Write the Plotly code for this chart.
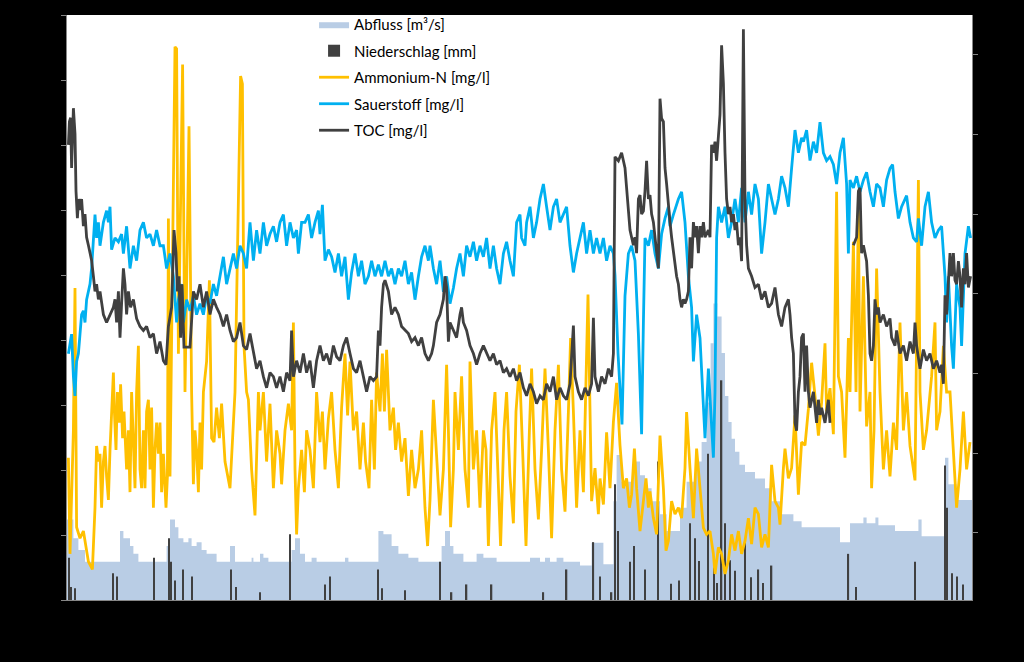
import plotly.graph_objects as go

# ---------------- data (day index, values) ----------------
abfluss_day = [0, 3.2, 5.7, 9.0, 26.5, 28.2, 31.5, 33.2, 35.7, 49.8, 51.5, 54.0, 55.7, 58.2, 60.7, 62.3, 64.8,
               67.3, 69.8, 74.8, 81.5, 84.0, 92.3, 93.2, 96.5, 98.2, 100.7, 112.3, 114.0, 116.5, 119.0, 122.3,
               124.8, 139.0, 140.7, 155.7, 158.2, 162.3, 165.7, 170.7, 175.7, 187.3, 189.0, 191.5, 193.2, 198.2,
               204.8, 208.2, 214.8, 231.5, 236.5, 239.0, 241.5, 244.8, 248.2, 256.5, 262.3, 268.2, 273.2, 274.8,
               277.3, 283.2, 286.5, 289.0, 292.3, 296.5, 299.8, 306.5, 309.8, 314.0, 317.3, 319.8, 321.8, 323.2,
               325.2, 327.3, 329.0, 330.7, 332.3, 334.0, 336.2, 339.0, 344.0, 349.0, 352.3, 357.3, 363.2, 367.3,
               386.5, 391.5, 398.2, 399.8, 404.2, 405.7, 414.0, 425.7, 427.3, 439.0, 440.7, 444.8, 452.5]
abfluss_val = [12.4, 9.5, 7.7, 5.9, 10.6, 9.5, 8.3, 7.1, 5.9, 8.3, 12.4, 11.2, 9.5, 8.9, 9.5, 8.3, 8.9,
               7.7, 7.1, 5.9, 8.3, 5.9, 6.5, 5.9, 7.1, 6.5, 5.9, 7.7, 9.5, 7.1, 5.9, 6.5,
               5.9, 6.5, 5.9, 10.6, 10.1, 8.3, 7.1, 6.5, 5.9, 8.3, 10.6, 8.3, 7.1, 5.9,
               7.1, 6.5, 5.9, 6.5, 5.9, 6.5, 5.9, 6.5, 5.9, 5.3, 8.8, 5.5, 15.2, 22.3,
               18.2, 21.3, 19.2, 17.2, 15.2, 13.2, 10.6, 14.2, 18.2, 21.3, 24.3, 30.4, 39.5, 45.6,
               43.6, 38.0, 31.4, 27.4, 24.8, 22.8, 20.8, 19.7, 18.7, 17.2, 15.2, 13.2, 12.1, 11.2,
               8.9, 11.8, 12.7, 11.8, 12.7, 11.5, 10.6, 12.4, 9.8, 21.9, 17.8, 15.4, 15.4]

nieder_day = [1.0, 2.0, 4.0, 23.0, 25.0, 43.5, 51.0, 52.0, 54.0, 58.0, 62.5, 82.0, 84.5, 96.5, 111.5, 129.0,
              131.5, 155.5, 157.5, 169.0, 186.5, 192.3, 199.8, 212.3, 238.2, 249.8, 263.2, 266.5, 272.3, 274.0,
              275.5, 281.5, 283.5, 289.0, 295.5, 302.0, 306.0, 311.5, 314.0, 316.0, 320.5, 323.5, 325.0, 327.3,
              329.0, 331.5, 334.0, 339.0, 342.0, 345.7, 348.0, 352.3, 390.7, 394.5, 424.0, 439.0, 440.0, 442.5,
              445.0, 448.0]
nieder_val = [6.5, 2.0, 1.8, 4.1, 3.6, 6.5, 9.5, 5.9, 3.0, 4.7, 3.6, 4.7, 2.0, 1.2, 10.1, 2.4,
              3.6, 4.7, 1.8, 1.5, 5.9, 1.2, 2.4, 2.4, 1.2, 4.7, 8.9, 3.6, 1.2, 17.8,
              10.6, 5.9, 8.3, 4.7, 21.3, 2.5, 3.0, 11.8, 9.5, 6.0, 22.5, 5.0, 2.6, 33.8,
              11.8, 6.1, 4.5, 9.5, 3.5, 4.7, 2.6, 5.3, 7.1, 2.0, 5.9, 20.7, 14.2, 4.1,
              3.6, 2.4]

amm_day = [0.7, 1.5, 3.2, 4.0, 4.8, 6.5, 8.2, 10.7, 12.7, 14.0, 14.8, 15.7, 16.5, 17.3, 18.2, 19.0, 19.8, 20.7,
           21.5, 23.2, 23.7, 24.5, 25.2, 26.2, 26.8, 27.8, 28.5, 29.8, 30.7, 31.5, 32.3, 33.2, 34.0, 34.8,
           35.7, 36.5, 37.3, 38.2, 39.0, 39.8, 40.7, 41.5, 42.3, 43.2, 44.0, 44.8, 45.7, 46.5, 47.3, 48.2,
           49.5, 50.2, 50.7, 51.5, 54.0, 54.8, 55.7, 57.8, 59.0, 61.0, 62.3, 63.2, 64.0, 64.8, 65.7, 66.5,
           67.3, 68.2, 69.8, 71.2, 72.3, 73.5, 74.8, 76.2, 77.3, 79.0, 81.5, 84.0, 86.8, 87.7, 88.5, 89.8,
           90.7, 92.3, 94.0, 95.7, 96.5, 98.2, 99.8, 101.5, 103.2, 104.8, 106.5, 107.3, 109.0, 110.7, 112.3,
           113.2, 114.0, 114.8, 115.7, 117.3, 118.7, 119.8, 121.5, 123.2, 124.8, 126.5, 127.7, 129.0, 130.7,
           132.3, 134.0, 135.7, 137.3, 139.0, 140.3, 141.5, 143.2, 144.8, 146.5, 148.2, 149.3, 151.0, 152.3,
           153.7, 154.8, 156.5, 157.7, 158.7, 159.8, 161.5, 163.2, 164.3, 165.7, 167.3, 169.0, 170.7, 172.3,
           174.0, 175.7, 177.3, 179.0, 180.3, 181.5, 183.2, 184.8, 186.5, 188.2, 189.8, 190.7, 191.8, 193.2,
           194.0, 195.7, 197.3, 199.0, 200.7, 201.5, 203.2, 204.8, 206.5, 208.2, 209.5, 210.7, 212.3, 214.0,
           215.7, 216.8, 218.5, 219.8, 221.5, 223.2, 224.5, 226.2, 227.8, 229.5, 231.2, 232.3, 234.0, 235.7,
           237.3, 239.0, 240.7, 242.3, 244.0, 245.7, 247.3, 249.0, 250.7, 251.8, 253.2, 254.8, 256.5, 258.2,
           260.5, 262.3, 264.0, 265.7, 266.5, 268.2, 269.8, 271.5, 273.2, 274.8, 276.5, 278.2, 279.8, 281.2,
           282.3, 283.7, 284.8, 286.5, 288.2, 289.5, 290.7, 291.5, 293.2, 294.8, 296.5, 298.2, 299.5, 300.7,
           302.3, 304.0, 305.7, 307.3, 309.0, 309.8, 311.5, 313.2, 314.8, 316.5, 318.2, 319.8, 321.5, 323.2,
           324.0, 325.7, 327.3, 329.0, 330.7, 332.3, 334.0, 335.7, 337.3, 339.0, 340.7, 342.3, 344.0, 345.7,
           347.3, 349.0, 350.7, 352.3, 354.0, 355.7, 356.5, 358.2, 359.0, 360.7, 362.3, 364.0, 365.7, 367.3,
           369.0, 370.7, 372.3, 374.0, 375.7, 377.3, 379.0, 379.8, 381.5, 383.2, 384.8, 385.7, 387.3, 389.0,
           390.7, 391.5, 393.2, 394.5, 395.7, 396.5, 398.2, 399.8, 401.5, 402.3, 403.5, 404.8, 406.5, 408.2,
           409.8, 411.5, 413.2, 414.8, 416.5, 418.2, 419.8, 421.5, 424.0, 425.7, 426.5, 428.2, 429.8, 432.3,
           434.0, 434.8, 436.5, 438.2, 439.8, 441.5, 443.2, 444.8, 446.5, 448.2, 449.8, 451.5]
amm_val = [21.9, 7.1, 26.1, 48.0, 11.2, 9.5, 10.6, 5.9, 4.7, 14.2, 23.7, 21.3, 22.5, 14.2, 21.3, 23.7, 19.0, 15.4,
           23.1, 35.0, 29.0, 23.1, 32.0, 27.3, 33.2, 24.9, 29.0, 20.1, 26.1, 16.6, 32.0, 23.1, 17.2, 32.0,
           39.1, 20.1, 17.2, 26.1, 17.2, 29.0, 30.8, 20.1, 29.6, 14.2, 23.1, 27.3, 22.5, 27.3, 16.6, 22.5,
           14.2, 19.0, 58.7, 19.0, 85.1, 84.8, 37.9, 82.4, 32.0, 72.9, 32.0, 17.8, 26.1, 23.1, 16.6, 27.3,
           20.1, 32.0, 36.7, 49.2, 24.9, 24.3, 29.6, 24.9, 30.2, 21.3, 17.2, 32.0, 80.6, 79.4, 39.1, 32.0,
           30.8, 20.1, 13.0, 32.0, 26.1, 32.0, 21.3, 30.2, 17.2, 26.1, 22.5, 17.8, 26.1, 30.2, 26.1,
           42.7, 20.1, 10.1, 17.2, 23.1, 16.6, 26.1, 23.1, 17.2, 32.0, 24.3, 29.0, 20.1, 27.9,
           32.0, 23.1, 17.2, 29.6, 37.9, 28.4, 36.7, 26.1, 29.0, 20.1, 27.3, 21.3, 17.2, 30.8,
           20.1, 35.0, 29.0, 37.9, 29.0, 38.5, 26.1, 29.6, 23.1, 27.3, 21.3, 24.9, 16.0, 23.1,
           17.2, 20.1, 26.1, 14.2, 8.3, 15.4, 30.8, 21.3, 13.0, 20.1, 36.2, 26.1, 11.2, 20.1,
           32.0, 23.1, 34.4, 20.1, 14.2, 36.7, 20.1, 26.1, 14.2, 26.1, 23.1, 8.3, 26.1, 32.0,
           17.8, 8.3, 26.1, 32.0, 19.0, 11.8, 29.0, 36.2, 23.1, 8.3, 26.1, 35.6, 20.1, 12.4,
           23.1, 35.6, 23.1, 9.5, 26.1, 36.2, 20.1, 13.6, 29.0, 40.3, 29.0, 14.2, 26.1, 16.6,
           47.0, 15.2, 20.3, 13.2, 18.7, 14.7, 25.8, 17.2, 27.4, 33.4, 23.8, 17.2, 18.7, 14.2,
           16.2, 23.3, 17.2, 10.6, 15.2, 18.7, 14.2, 16.7, 12.6, 10.1, 25.3, 17.2, 7.6, 9.1,
           15.2, 13.2, 14.2, 12.6, 20.3, 28.9, 20.3, 12.6, 23.3, 17.2, 11.1, 10.1, 10.6, 7.1,
           4.0, 8.1, 7.1, 4.0, 6.1, 10.1, 7.6, 10.6, 7.1, 9.1, 12.6, 8.6, 14.2, 13.2,
           8.1, 10.1, 8.1, 20.8, 15.2, 14.2, 11.6, 20.3, 23.3, 18.7, 20.3, 28.4, 16.2, 24.3,
           23.8, 29.4, 36.5, 31.4, 25.3, 30.4, 39.5, 29.0, 32.6, 25.5, 62.8, 34.4, 32.0, 21.9,
           40.3, 32.0, 55.1, 32.0, 60.5, 29.0, 49.8, 26.7, 32.0, 17.2, 26.1, 51.0, 32.0, 20.1,
           26.1, 19.0, 27.3, 23.1, 42.7, 26.1, 32.0, 23.7, 18.4, 64.6, 32.0, 23.1, 26.1, 34.4,
           42.7, 26.1, 29.0, 39.1, 32.0, 32.0, 23.1, 14.2, 20.1, 29.0, 20.1, 24.3]

o2_day = [0.7, 1.5, 2.3, 3.2, 4.0, 4.8, 5.7, 6.5, 7.3, 8.2, 9.0, 9.8, 10.7, 11.5, 12.3, 13.2, 14.0, 14.8, 15.7,
          16.5, 18.2, 19.8, 20.7, 21.5, 22.3, 24.0, 25.7, 27.3, 28.2, 29.8, 31.5, 33.2, 34.8, 36.5, 38.2,
          39.8, 41.5, 43.2, 44.8, 46.5, 48.2, 49.8, 51.5, 53.2, 54.8, 55.7, 57.3, 58.2, 59.8, 61.5, 63.2,
          64.8, 66.5, 68.2, 69.8, 71.5, 73.2, 74.8, 76.5, 78.2, 79.8, 81.5, 83.2, 84.8, 86.5, 88.2, 89.8,
          91.5, 93.2, 94.8, 96.5, 98.2, 99.8, 101.5, 103.2, 104.8, 106.5, 108.2, 109.8, 111.5, 113.2, 114.8,
          115.7, 117.3, 119.0, 120.7, 122.3, 124.0, 125.7, 126.5, 127.7, 129.0, 130.7, 132.3, 134.0, 135.7,
          137.3, 139.0, 140.7, 142.3, 144.0, 145.7, 147.3, 149.0, 150.7, 152.3, 154.0, 155.7, 157.3, 159.0,
          160.7, 162.3, 164.0, 165.7, 167.3, 169.0, 170.7, 172.3, 174.0, 175.7, 177.3, 179.0, 180.7, 181.5,
          183.2, 184.8, 186.5, 188.2, 189.8, 191.5, 193.2, 194.8, 196.5, 198.2, 199.8, 201.5, 203.2, 204.8,
          206.5, 208.2, 209.8, 211.5, 213.2, 214.8, 216.5, 218.2, 219.8, 221.5, 223.2, 224.8, 226.5, 227.3,
          229.0, 229.8, 231.5, 233.2, 234.8, 236.5, 238.2, 239.8, 241.5, 243.2, 244.8, 246.5, 248.2, 249.8,
          251.5, 253.2, 254.8, 256.5, 258.2, 259.8, 261.5, 263.2, 264.8, 266.5, 268.2, 269.8, 271.5, 273.2,
          274.0, 275.5, 277.5, 279.0, 280.7, 282.3, 284.0, 285.7, 286.5, 287.3, 288.2, 289.0, 290.7, 292.3,
          294.0, 295.7, 297.3, 299.0, 300.7, 301.5, 303.2, 305.7, 307.3, 309.0, 310.7, 312.3, 313.2, 314.8,
          316.5, 317.7, 319.0, 320.7, 322.3, 323.2, 324.0, 324.8, 325.7, 327.3, 329.0, 330.7, 332.3, 334.0,
          335.7, 337.3, 339.0, 340.7, 342.3, 344.0, 345.7, 347.3, 349.0, 350.7, 352.3, 354.0, 355.7, 357.3,
          359.0, 360.7, 362.3, 364.0, 365.7, 367.3, 368.2, 369.8, 371.5, 373.2, 374.8, 376.5, 378.2, 379.8,
          381.5, 383.2, 384.8, 386.5, 388.2, 389.8, 390.7, 391.5, 393.2, 394.8, 396.5, 398.2, 399.8, 401.5,
          403.2, 404.8, 406.5, 408.2, 409.8, 411.5, 412.8, 414.0, 415.7, 417.3, 419.8, 421.5, 423.2, 424.8,
          425.7, 427.3, 429.0, 430.7, 432.3, 434.0, 435.7, 437.3, 439.0, 439.8, 440.7, 442.3, 443.2, 444.8,
          446.5, 447.3, 449.0, 450.7, 451.8]
o2_val = [37.9, 39.7, 40.9, 34.4, 31.4, 36.7, 37.9, 40.9, 43.9, 44.5, 42.7, 46.2, 47.4, 48.6, 51.0, 56.3, 59.3, 55.7, 58.1,
          54.5, 58.1, 59.9, 58.1, 60.5, 53.9, 55.7, 55.1, 56.3, 53.3, 57.5, 51.0, 54.5, 52.2, 56.9, 58.1,
          55.7, 56.3, 54.5, 56.9, 54.5, 54.5, 51.0, 53.3, 49.8, 42.7, 46.2, 48.6, 42.7, 46.2, 44.5, 46.8,
          43.9, 45.6, 43.9, 46.8, 45.6, 48.6, 46.8, 49.8, 52.8, 48.6, 51.0, 53.3, 51.0, 54.5, 53.3, 51.0,
          58.1, 52.2, 56.9, 53.3, 58.1, 54.5, 56.3, 57.5, 55.1, 58.1, 59.3, 54.5, 58.1, 55.7, 56.9,
          53.3, 58.1, 58.1, 59.3, 55.7, 58.1, 59.9, 56.3, 60.8, 52.2, 53.9, 52.8, 50.4, 53.3,
          49.8, 52.8, 46.2, 50.4, 53.3, 49.8, 52.2, 48.6, 49.8, 52.2, 49.8, 51.6, 49.8, 52.2,
          49.8, 51.0, 48.6, 51.0, 49.8, 52.2, 48.6, 50.4, 46.2, 49.8, 52.8, 54.5, 52.2, 54.5,
          51.0, 48.6, 52.2, 47.4, 49.8, 45.6, 48.0, 51.0, 53.3, 49.8, 54.5, 52.8, 55.1, 52.2,
          54.5, 52.8, 55.7, 51.0, 54.5, 51.0, 48.6, 53.3, 55.1, 52.2, 49.8, 58.1, 59.3, 55.7,
          54.5, 58.1, 60.5, 55.7, 58.1, 61.7, 64.0, 60.5, 56.9, 60.5, 61.7, 58.1, 59.3, 60.5,
          54.5, 50.4, 53.3, 55.7, 58.1, 53.3, 56.9, 53.3, 55.7, 53.3, 55.7, 52.2, 54.5, 53.3,
          50.0, 38.0, 27.0, 46.8, 53.3, 54.5, 52.2, 40.9, 32.0, 25.5, 42.7, 55.7, 54.5, 56.9,
          53.3, 51.0, 56.3, 58.7, 60.5, 57.5, 59.3, 61.7, 62.8, 58.1, 49.8, 45.0, 36.7, 43.9,
          40.3, 32.0, 24.9, 35.6, 26.1, 21.9, 32.0, 55.7, 60.5, 58.1, 60.5, 55.7, 58.1, 61.7,
          58.1, 63.4, 58.1, 62.8, 59.3, 64.0, 61.7, 53.3, 58.1, 64.0, 61.7, 59.3, 61.7, 65.2,
          63.4, 60.5, 66.4, 72.3, 68.8, 71.1, 70.5, 72.3, 67.6, 70.5, 68.8, 73.5, 68.8, 67.6,
          68.2, 67.0, 64.0, 68.8, 71.1, 64.0, 53.3, 64.6, 63.4, 65.2, 62.8, 64.6, 65.8, 62.8,
          60.5, 64.0, 63.4, 60.5, 64.6, 66.4, 67.0, 62.8, 58.7, 60.5, 62.2, 58.1, 55.7, 55.1,
          58.7, 54.5, 60.5, 62.8, 58.1, 55.7, 56.9, 57.5, 49.8, 42.7, 49.8, 39.1, 35.6, 48.6,
          45.0, 39.1, 53.3, 57.5, 55.7]

toc_day = [0.7, 1.2, 1.8, 2.3, 3.2, 4.0, 4.5, 5.2, 5.8, 6.5, 7.3, 8.2, 9.0, 9.8, 10.7, 11.5, 12.3, 13.2, 14.0,
           14.8, 15.7, 16.5, 18.2, 19.8, 21.5, 23.2, 24.0, 24.8, 25.7, 26.5, 27.3, 28.2, 29.0, 29.8, 30.7,
           31.8, 33.2, 34.8, 36.5, 38.2, 39.8, 41.5, 43.2, 44.8, 46.5, 48.2, 49.5, 50.7, 52.3, 53.5, 54.5,
           55.2, 56.0, 56.8, 57.5, 58.5, 61.5, 63.2, 64.8, 66.5, 68.2, 69.8, 71.5, 73.2, 74.8, 76.5, 78.2,
           79.8, 81.5, 83.2, 84.8, 86.5, 88.2, 89.8, 91.5, 93.2, 94.8, 96.5, 98.2, 99.8, 101.5, 103.2, 104.8,
           106.5, 108.2, 109.8, 111.5, 112.3, 113.2, 114.8, 116.5, 118.2, 119.8, 121.5, 123.2, 124.8, 126.5,
           128.2, 129.8, 131.5, 133.2, 134.8, 136.5, 138.2, 139.8, 141.5, 143.2, 144.8, 146.5, 148.2, 149.8,
           151.5, 153.2, 154.8, 155.7, 156.5, 157.3, 158.2, 159.0, 160.7, 162.3, 164.0, 165.7, 167.3, 169.0,
           170.7, 172.3, 174.0, 175.7, 177.3, 179.0, 180.7, 182.3, 183.2, 184.8, 186.5, 188.2, 189.0, 189.8,
           190.7, 191.5, 193.2, 194.8, 196.5, 197.3, 198.2, 199.8, 201.5, 203.2, 204.8, 206.5, 208.2, 209.8,
           211.5, 213.2, 214.8, 216.5, 218.2, 219.8, 221.5, 223.2, 224.8, 226.5, 228.2, 229.8, 231.5, 233.2,
           234.8, 236.5, 238.2, 239.8, 241.5, 243.2, 244.8, 246.5, 248.2, 249.8, 251.5, 253.2, 254.0, 255.7,
           257.3, 259.0, 260.7, 262.3, 263.2, 264.0, 265.7, 267.3, 269.0, 270.7, 272.3, 273.2, 274.0, 275.7,
           276.5, 277.3, 278.2, 279.0, 279.8, 280.7, 281.5, 282.3, 283.2, 284.0, 284.8, 285.7, 286.5, 287.3,
           288.2, 289.0, 289.8, 290.7, 291.5, 292.3, 293.2, 294.0, 294.8, 295.7, 296.5, 297.3, 298.2, 299.0,
           299.8, 300.7, 301.5, 302.3, 303.2, 304.0, 304.8, 305.7, 306.5, 307.3, 308.2, 309.0, 309.8, 310.7,
           311.5, 312.3, 313.2, 314.0, 314.8, 315.7, 316.5, 317.3, 318.2, 319.0, 320.7, 321.5, 322.3, 323.2,
           324.0, 324.8, 325.7, 326.5, 327.3, 328.2, 329.0, 329.8, 330.7, 331.5, 332.3, 333.2, 334.0, 334.8,
           335.7, 336.5, 337.3, 338.2, 339.0, 339.8, 340.7, 342.3, 344.0, 345.7, 347.3, 349.0, 350.7, 352.3,
           354.0, 355.7, 357.3, 359.0, 360.7, 361.5, 362.3, 363.2, 364.0, 364.8, 365.7, 366.5, 367.3, 368.2,
           369.0, 369.8, 370.7, 371.5, 373.2, 374.8, 375.7, 376.5, 377.3, 379.0, 380.7, 381.5, 387.0,
           393.2, 394.8, 395.7, 396.5, 397.3, 398.2, 399.8, 400.7, 401.5, 402.3, 403.2, 404.0, 404.8, 405.7,
           406.5, 408.2, 409.8, 411.5, 412.3, 414.0, 414.8, 416.5, 418.2, 419.8, 421.5, 423.2, 424.0, 424.8,
           426.5, 428.2, 429.8, 431.5, 433.2, 434.8, 436.5, 437.3, 438.2, 439.0, 439.8, 440.7, 441.5, 442.3,
           443.2, 444.0, 444.8, 445.7, 446.5, 447.3, 448.2, 449.0, 449.8, 450.7, 451.8]
toc_val = [68.7, 71.6, 72.1, 65.8, 73.3, 70.1, 62.9, 59.5, 61.9, 60.5, 61.9, 58.5, 60.0, 57.1, 56.1, 55.1, 54.2, 52.2, 50.3,
           51.2, 49.3, 50.3, 47.4, 46.4, 47.4, 48.3, 49.3, 46.4, 50.3, 44.5, 48.8, 53.2, 51.2, 47.4, 50.3,
           48.3, 49.3, 46.9, 45.9, 45.4, 45.9, 44.5, 45.0, 42.5, 44.0, 41.6, 41.1, 45.9, 48.3, 58.0, 55.1,
           50.3, 52.2, 44.5, 51.2, 43.3, 43.3, 50.3, 49.3, 51.2, 48.3, 50.3, 47.4, 49.3, 48.3, 47.4, 45.9,
           47.4, 45.4, 44.0, 44.5, 46.4, 43.5, 43.0, 45.0, 42.5, 40.6, 41.6, 39.6, 38.2, 40.1, 39.6, 38.2,
           39.6, 37.7, 40.1, 39.1, 45.4, 39.6, 41.6, 40.1, 42.5, 40.1, 41.6, 38.2, 41.6, 43.5,
           41.6, 42.5, 41.1, 43.5, 42.1, 41.6, 43.5, 44.5, 42.5, 40.6, 40.1, 41.6, 39.6, 37.7,
           39.6, 39.1, 39.6, 45.4, 43.5, 48.3, 51.2, 51.7, 50.3, 47.4, 48.3, 47.4, 45.9, 45.4,
           45.0, 44.0, 44.5, 43.5, 44.5, 42.5, 41.6, 42.5, 43.5, 46.4, 47.4, 49.3, 52.2, 50.8,
           44.0, 46.4, 45.4, 44.5, 47.4, 48.3, 46.4, 45.4, 43.5, 42.5, 41.1, 42.5, 43.5, 42.5,
           41.6, 42.5, 41.1, 41.6, 40.1, 40.6, 39.6, 40.6, 39.1, 40.1, 38.2, 37.2, 38.7, 37.7,
           36.2, 37.2, 36.7, 38.7, 37.7, 39.6, 36.7, 38.2, 37.2, 36.7, 38.7, 46.0, 39.6, 37.7,
           36.7, 38.2, 37.2, 38.7, 47.0, 39.6, 37.7, 39.6, 38.7, 40.6, 39.6, 42.5, 67.2, 66.7,
           67.2, 67.7, 66.7, 65.8, 63.3, 60.0, 58.0, 57.1, 56.1, 57.1, 55.1, 61.9, 62.4, 60.0,
           60.4, 62.9, 66.7, 61.9, 62.4, 60.0, 59.0, 57.1, 55.1, 53.2, 74.5, 72.0, 71.6, 65.8,
           63.8, 60.9, 59.0, 57.1, 55.1, 54.1, 52.2, 51.2, 49.3, 48.3, 49.3, 48.8, 49.3, 50.3,
           57.1, 53.2, 59.0, 57.1, 58.5, 55.1, 58.5, 57.1, 59.0, 57.1, 58.0, 57.1, 68.7, 67.7,
           69.1, 66.7, 69.6, 72.5, 81.2, 76.4, 67.7, 61.9, 60.0, 60.9, 59.0, 60.0, 58.0, 59.0,
           56.1, 57.1, 54.1, 83.2, 61.9, 56.1, 53.2, 52.2, 50.8, 51.2, 49.3, 50.3, 48.3, 48.8,
           50.8, 47.4, 45.9, 48.3, 49.3, 47.4, 44.5, 42.5, 33.8, 32.8, 37.7, 39.6, 44.5, 45.0,
           37.7, 43.5, 37.7, 35.7, 37.7, 33.8, 36.7, 34.8, 35.7, 33.8, 36.7, 33.8, None,
           56.1, 57.1, 62.9, 63.3, 55.1, 56.1, 54.1, 49.8, 42.5, 41.6, 43.5, 49.3, 47.4, 48.3,
           46.4, 47.4, 45.9, 46.9, 44.5, 43.5, 45.4, 42.5, 43.5, 41.6, 44.0, 42.5, 46.4, 43.5,
           40.6, 43.0, 41.6, 42.5, 40.6, 41.6, 40.1, 41.1, 38.7, 49.8, 47.4, 51.2, 55.1, 52.2,
           55.1, 51.7, 51.2, 54.1, 52.2, 48.3, 53.2, 51.2, 55.1, 50.8, 52.2]

# ---------------- figure ----------------
fig = go.Figure()
# base subplot: discharge area
fig.add_trace(go.Scatter(
    x=abfluss_day, y=abfluss_val, name="Abfluss [m³/s]", mode="lines",
    line=dict(shape="hv", width=0, color="#B9CDE5"), fill="tozeroy", fillcolor="#B9CDE5",
    legendgroup="a"))
# overlay (same scale as left axis): precipitation bars + lines
fig.add_trace(go.Bar(
    x=nieder_day, y=nieder_val, name="Niederschlag [mm]", width=0.7, yaxis="y2",
    marker=dict(color="#404040", line=dict(width=0)), legendgroup="b"))
fig.add_trace(go.Scatter(
    x=amm_day, y=amm_val, name="Ammonium-N [mg/l]", mode="lines", yaxis="y2",
    line=dict(color="#FFC000", width=2.8), legendgroup="c"))
fig.add_trace(go.Scatter(
    x=o2_day, y=o2_val, name="Sauerstoff [mg/l]", mode="lines", yaxis="y2",
    line=dict(color="#00B0F0", width=2.8), legendgroup="d"))
# secondary (right) axis: TOC
fig.add_trace(go.Scatter(
    x=toc_day, y=toc_val, name="TOC [mg/l]", mode="lines", yaxis="y3", connectgaps=False,
    line=dict(color="#404040", width=2.8), legendgroup="e"))

axis_col = "#868686"
fig.update_layout(
    width=1024, height=662,
    paper_bgcolor="black", plot_bgcolor="white",
    margin=dict(l=67, r=52, t=8, b=62),
    showlegend=True,
    legend=dict(x=0.273, y=1.012, xanchor="left", yanchor="top",
                font=dict(family="Lato", size=15, color="black"),
                bgcolor="rgba(0,0,0,0)", itemwidth=30, tracegroupgap=4,
                traceorder="grouped"),
    xaxis=dict(range=[0, 452.5], showgrid=False, zeroline=False, showline=True,
               linecolor=axis_col, linewidth=1, ticks="", showticklabels=False),
    yaxis=dict(range=[0, 90], tickvals=list(range(0, 91, 10)), showgrid=False, zeroline=False,
               showline=True, linecolor=axis_col, linewidth=1, ticks="outside", ticklen=5,
               tickcolor=axis_col, showticklabels=False),
    yaxis2=dict(range=[0, 90], overlaying="y", visible=False, showgrid=False, zeroline=False),
    yaxis3=dict(range=[11.56, 85.0], tickvals=list(range(20, 81, 10)), overlaying="y", side="right",
                showgrid=False, zeroline=False, showline=True, linecolor=axis_col, linewidth=1,
                ticks="outside", ticklen=5, tickcolor=axis_col, showticklabels=False),
)

fig.write_html("out.html")
